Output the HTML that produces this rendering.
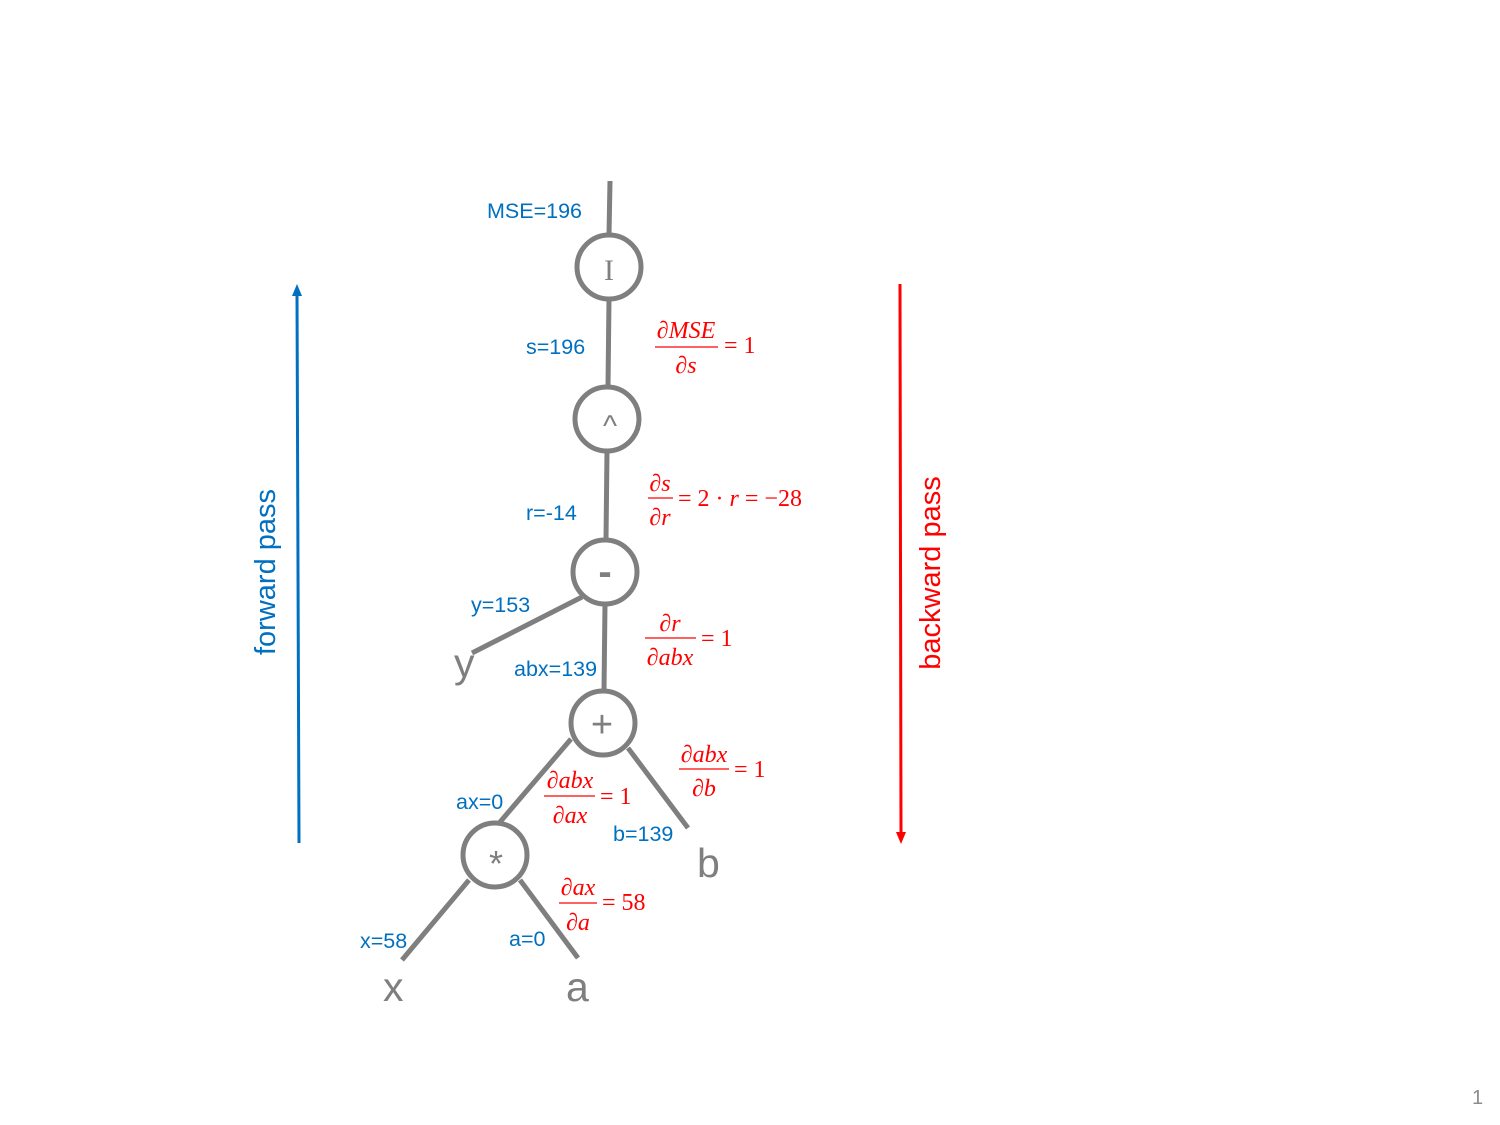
<!DOCTYPE html>
<html><head><meta charset="utf-8"><style>
html,body{margin:0;padding:0;background:#fff;width:1500px;height:1125px;overflow:hidden}
svg{display:block}
.b{font-family:"Liberation Sans",sans-serif;font-size:21.5px;fill:#0070c0}
.m{font-family:"Liberation Serif",serif;font-size:24px;fill:#ff0000;font-style:italic}
.mr{font-family:"Liberation Serif",serif;font-size:24px;fill:#ff0000}
.leaf{font-family:"Liberation Sans",sans-serif;font-size:41px;fill:#7f7f7f}
.op{font-family:"Liberation Sans",sans-serif;fill:#7f7f7f;text-anchor:middle}
.e{stroke:#7f7f7f;stroke-width:5;fill:none}
.n{stroke:#7f7f7f;stroke-width:5;fill:#fff}
.fl{stroke:#ff0000;stroke-width:1.2}
</style></head><body>
<svg width="1500" height="1125" viewBox="0 0 1500 1125">
<g>
<line class="e" x1="610" y1="181" x2="609" y2="235"/>
<line class="e" x1="609" y1="299" x2="608" y2="387"/>
<line class="e" x1="607" y1="451" x2="606" y2="540"/>
<line class="e" x1="582" y1="597" x2="472" y2="653"/>
<line class="e" x1="605" y1="604" x2="604" y2="691"/>
<line class="e" x1="571" y1="739" x2="500" y2="822"/>
<line class="e" x1="628" y1="748" x2="688" y2="828"/>
<line class="e" x1="469" y1="880" x2="402" y2="960"/>
<line class="e" x1="520" y1="880" x2="578" y2="958"/>
</g>
<g><circle class="n" cx="609" cy="267" r="32"/><text class="op" x="609" y="280" style="font-family:'Liberation Serif',serif;font-size:30px">I</text></g>
<g><circle class="n" cx="607" cy="419" r="32"/><text class="op" x="610" y="436" style="font-size:30px">^</text></g>
<g><circle class="n" cx="605" cy="572" r="32"/><text class="op" x="605" y="585" style="font-size:40px;font-weight:bold">-</text></g>
<g><circle class="n" cx="603" cy="723" r="32"/><text class="op" x="602" y="737" style="font-size:38px">+</text></g>
<g><circle class="n" cx="495" cy="855" r="32"/><text class="op" x="496" y="876" style="font-size:36px">*</text></g>
<text class="leaf" x="454" y="677">y</text>
<text class="leaf" x="697" y="877">b</text>
<text class="leaf" x="383" y="1001">x</text>
<text class="leaf" x="566" y="1001">a</text>
<g>
<text class="b" x="487" y="218">MSE=196</text>
<text class="b" x="526" y="354">s=196</text>
<text class="b" x="526" y="520">r=-14</text>
<text class="b" x="471" y="612">y=153</text>
<text class="b" x="514" y="676">abx=139</text>
<text class="b" x="456" y="809">ax=0</text>
<text class="b" x="613" y="841">b=139</text>
<text class="b" x="360" y="948">x=58</text>
<text class="b" x="509" y="946">a=0</text>
</g>
<g>
<g><text class="m" x="686" y="338" text-anchor="middle">∂MSE</text><line class="fl" x1="655" y1="347" x2="718" y2="347"/><text class="m" x="686" y="373" text-anchor="middle">∂s</text><text class="mr" x="724" y="353">= 1</text></g>
<g><text class="m" x="660" y="491" text-anchor="middle">∂s</text><line class="fl" x1="648" y1="498" x2="673" y2="498"/><text class="m" x="660" y="525" text-anchor="middle">∂r</text><text class="mr" x="678" y="506">= 2 · <tspan font-style="italic">r</tspan> = −28</text></g>
<g><text class="m" x="670" y="631" text-anchor="middle">∂r</text><line class="fl" x1="645" y1="638" x2="696" y2="638"/><text class="m" x="670" y="665" text-anchor="middle">∂abx</text><text class="mr" x="701" y="646">= 1</text></g>
<g><text class="m" x="570" y="788" text-anchor="middle">∂abx</text><line class="fl" x1="544" y1="796" x2="595" y2="796"/><text class="m" x="570" y="823" text-anchor="middle">∂ax</text><text class="mr" x="600" y="804">= 1</text></g>
<g><text class="m" x="704" y="762" text-anchor="middle">∂abx</text><line class="fl" x1="679" y1="769" x2="729" y2="769"/><text class="m" x="704" y="796" text-anchor="middle">∂b</text><text class="mr" x="734" y="777">= 1</text></g>
<g><text class="m" x="578" y="895" text-anchor="middle">∂ax</text><line class="fl" x1="559" y1="903" x2="597" y2="903"/><text class="m" x="578" y="930" text-anchor="middle">∂a</text><text class="mr" x="602" y="910">= 58</text></g>
</g>
<g>
<line x1="299" y1="843" x2="297" y2="294" stroke="#0070c0" stroke-width="3"/>
<polygon points="297,284 292,296 302,296" fill="#0070c0"/>
<text transform="translate(275,572) rotate(-90)" text-anchor="middle" style="font-family:'Liberation Sans',sans-serif;font-size:29px;fill:#0070c0">forward pass</text>
</g>
<g>
<line x1="900" y1="284" x2="901" y2="834" stroke="#ff0000" stroke-width="3"/>
<polygon points="901,844 896,832 906,832" fill="#ff0000"/>
<text transform="translate(940,573) rotate(-90)" text-anchor="middle" style="font-family:'Liberation Sans',sans-serif;font-size:29px;fill:#ff0000">backward pass</text>
</g>
<text x="1472" y="1104" style="font-family:'Liberation Sans',sans-serif;font-size:20px;fill:#8c8c8c">1</text>
</svg>
</body></html>
